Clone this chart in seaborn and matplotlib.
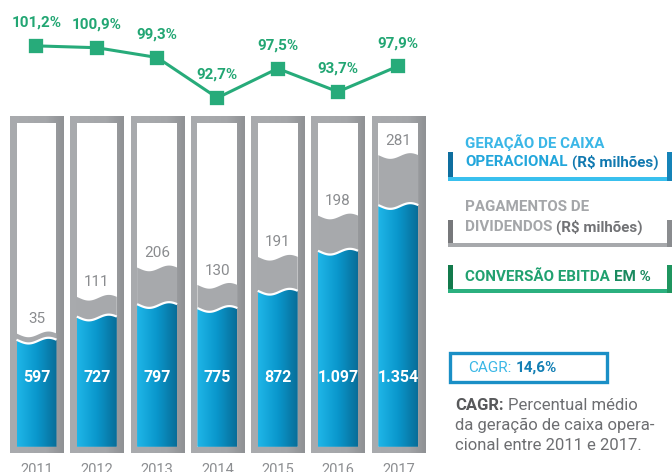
import numpy as np
import pandas as pd
import matplotlib
matplotlib.use('Agg')
import matplotlib.pyplot as plt
from matplotlib.patches import Rectangle, Polygon
from matplotlib.colors import LinearSegmentedColormap
import seaborn as sns

# dados (R$ milhões / %)
anos = ['2011', '2012', '2013', '2014', '2015', '2016', '2017']
geracao_caixa = [597, 727, 797, 775, 872, 1097, 1354]
dividendos = [35, 111, 206, 130, 191, 198, 281]
conversao_ebitda = [101.2, 100.9, 99.3, 92.7, 97.5, 93.7, 97.9]
rotulos_geracao = ['597', '727', '797', '775', '872', '1.097', '1.354']
rotulos_conversao = ['101,2%', '100,9%', '99,3%', '92,7%', '97,5%', '93,7%', '97,9%']
cagr = '14,6%'

df = pd.DataFrame({'ano': anos, 'geracao': geracao_caixa,
                   'dividendos': dividendos, 'conversao': conversao_ebitda})
df['total'] = df['geracao'] + df['dividendos']

sns.set_style('white')
plt.rcParams['font.family'] = ['Roboto', 'DejaVu Sans']

W, H = 672, 472
fig = plt.figure(figsize=(W / 100, H / 100), dpi=100)


def caixa_px(x0, y0, x1, y1):
    # caixa em pixels (origem no topo) -> fração da figura
    return [x0 / W, 1 - y1 / H, (x1 - x0) / W, (y1 - y0) / H]


cinza_moldura = '#a7a9ac'
verde = '#27ab7a'
azul_grad = LinearSegmentedColormap.from_list('azul', ['#1fb6e8', '#0a97cc', '#086d98'])
moldura_grad = LinearSegmentedColormap.from_list('moldura', ['#a9abae', '#a7a9ac', '#a4a6a9', '#8f9194'])

# ===============================
# barras (geração de caixa + dividendos)
ax = fig.add_axes(caixa_px(6.35, 116, 428.45, 453))
ax.set_facecolor('none')
n0 = len(ax.patches)
sns.barplot(data=df, x='ano', y='total', color=cinza_moldura, width=0.663,
            saturation=1, ax=ax)
barras_total = ax.patches[n0:]
n1 = len(ax.patches)
sns.barplot(data=df, x='ano', y='geracao', color='#0a97cc', width=0.663,
            saturation=1, ax=ax)
barras_azuis = ax.patches[n1:]

y_min, y_max, topo_interno = -35, 1860, 1820


def onda(x0, w, topo, amp=16, n=80):
    t = np.linspace(0, 1, n)
    return x0 + w * t, topo + amp * np.cos(2 * np.pi * (t - 0.8))


for i, (pt, pa) in enumerate(zip(barras_total, barras_azuis)):
    x0, w = pa.get_x(), pa.get_width()
    cx = x0 + w / 2
    pt.set_visible(False)
    pa.set_visible(False)
    # moldura cinza e interior branco
    ax.imshow(np.linspace(0, 1, 256).reshape(1, -1), cmap=moldura_grad,
              extent=[cx - 0.44, cx + 0.44, y_min, y_max], aspect='auto', zorder=0)
    ax.add_patch(Rectangle((x0, 0), w, topo_interno,
                           facecolor='white', edgecolor='none', zorder=0.5))
    # faixa cinza (dividendos)
    xs, ys = onda(x0, w, pt.get_height())
    ax.add_patch(Polygon(np.column_stack([np.r_[x0, xs, x0 + w], np.r_[0, ys, 0]]),
                         facecolor=cinza_moldura, edgecolor='none', zorder=1))
    # faixa azul (geração de caixa)
    xs, ys = onda(x0, w, pa.get_height())
    pol = Polygon(np.column_stack([np.r_[x0, xs, x0 + w], np.r_[0, ys, 0]]),
                  facecolor='none', edgecolor='none')
    ax.add_patch(pol)
    im = ax.imshow(np.linspace(0, 1, 256).reshape(1, -1), cmap=azul_grad,
                   extent=[x0, x0 + w, 0, pa.get_height() + 20], aspect='auto', zorder=2)
    im.set_clip_path(pol)
    ax.plot(xs, ys, color='white', lw=1.6, zorder=3, solid_capstyle='butt')
    # rótulos
    ax.text(cx, 387, rotulos_geracao[i], ha='center', va='center', color='white',
            fontsize=11.5, fontweight='bold', zorder=5)
    ax.annotate(str(dividendos[i]), (cx, pt.get_height()), xytext=(0, 11),
                textcoords='offset points', ha='center', va='center',
                color='#8a8c8f', fontsize=11, zorder=5)

ax.set_xlim(-0.5, 6.5)
ax.set_ylim(y_min, y_max)
ax.set_yticks([])
ax.set_xlabel('')
ax.set_ylabel('')
ax.tick_params(axis='x', length=0, pad=7, labelsize=10.5, colors='#8c8e91')
sns.despine(ax=ax, left=True, bottom=True)

# ===============================
# linha de conversão EBITDA
ax_l = fig.add_axes(caixa_px(6.35, 0, 428.45, 115))
ax_l.set_facecolor('none')
sns.pointplot(data=df, x='ano', y='conversao', color=verde, markers='s',
              markersize=8.3, linewidth=2.2, errorbar=None, ax=ax_l)
for i, v in enumerate(conversao_ebitda):
    ax_l.annotate(rotulos_conversao[i], (i, v), xytext=(0, 16.5),
                  textcoords='offset points', ha='center', va='center',
                  color='#22a673', fontsize=11, fontweight='bold')
ax_l.set_xlim(-0.5, 6.5)
ax_l.set_ylim(89.9, 108.7)
ax_l.axis('off')

# ===============================
# legendas à direita
ax_d = fig.add_axes([0, 0, 1, 1])
ax_d.set_xlim(0, W)
ax_d.set_ylim(H, 0)
ax_d.axis('off')
rend = fig.canvas.get_renderer()


def texto(x, y, partes, size):
    for txt, cor, peso, gap in partes:
        t = ax_d.text(x, y, txt, color=cor, fontsize=size, fontweight=peso,
                      ha='left', va='center')
        x += t.get_window_extent(renderer=rend).width + gap


def colchete(y0, y1, c_esq, c_base, c_dir):
    ax_d.add_patch(Rectangle((448, y0), 5, y1 - y0, color=c_esq, lw=0))
    ax_d.add_patch(Rectangle((448, y1 - 4), 224, 4, color=c_base, lw=0))
    ax_d.add_patch(Rectangle((667, y0), 5, y1 - y0, color=c_dir, lw=0))


tam_leg = 10.9
texto(465, 143, [('GERAÇÃO DE CAIXA', '#3bb7e7', 'bold', 0)], tam_leg)
texto(465, 162, [('OPERACIONAL', '#22a6db', 'bold', 4),
                 ('(R$ milhões)', '#1179b0', 'bold', 0)], tam_leg)
colchete(152, 181, '#0e6e9f', '#39c0ee', '#1583b8')

texto(465, 207, [('PAGAMENTOS DE', '#a4a6a9', 'bold', 0)], tam_leg)
texto(465, 227, [('DIVIDENDOS', '#a4a6a9', 'bold', 4),
                 ('(R$ milhões)', '#727376', 'bold', 0)], tam_leg)
colchete(220, 247, '#77787b', '#a7a9ac', '#8a8c8f')

texto(465, 277, [('CONVERSÃO EBITDA', '#21a170', 'bold', 4),
                 ('EM %', '#1a8a5f', 'bold', 0)], tam_leg)
colchete(265, 293, '#137a4c', '#2bb07f', '#1f955f')

ax_d.add_patch(Rectangle((449.5, 352.5), 157, 29, facecolor='white',
                         edgecolor='#1a8fc6', lw=2.4))
texto(468, 368, [('CAGR:', '#3ab7e6', 'normal', 4), (cagr, '#137fb4', 'bold', 0)], 11)

texto(455, 405, [('CAGR:', '#58595b', 'bold', 4),
                 ('Percentual médio', '#6d6e71', 'normal', 0)], 12)
texto(455, 425, [('da geração de caixa opera-', '#6d6e71', 'normal', 0)], 12)
texto(455, 445, [('cional entre 2011 e 2017.', '#6d6e71', 'normal', 0)], 12)

fig.savefig('out.png', dpi=100)
